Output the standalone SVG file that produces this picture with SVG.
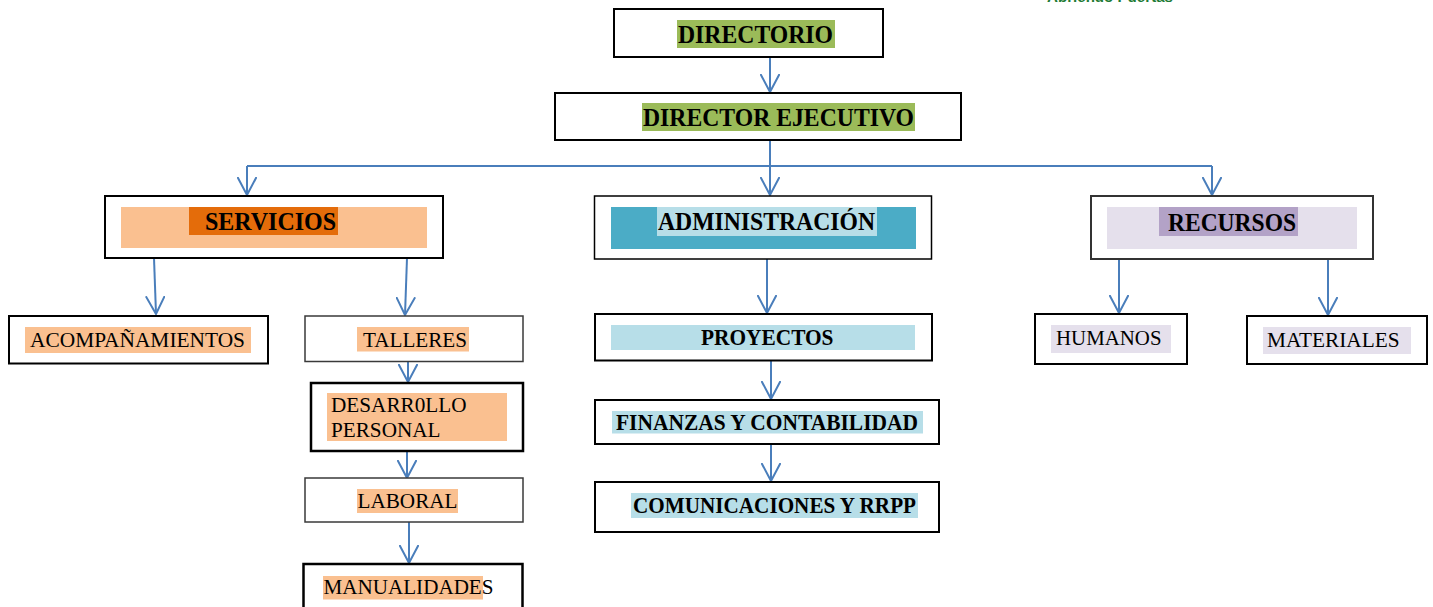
<svg xmlns="http://www.w3.org/2000/svg" width="1433" height="607" viewBox="0 0 1433 607">
<defs>
<style>
.box{fill:#fff;stroke:#000;stroke-width:2}
.thin{fill:#fff;stroke:#3a3a3a;stroke-width:1.5}
.b{font-family:"Liberation Serif","Times New Roman",serif;font-weight:bold;fill:#000}
.r{font-family:"Liberation Serif","Times New Roman",serif;fill:#000}
.con{fill:none;stroke:#4A7EBB;stroke-width:2}
</style>
<marker id="ah" viewBox="0 0 20 20" markerUnits="userSpaceOnUse" markerWidth="20" markerHeight="20" refX="18" refY="10" orient="auto">
<path d="M0,0.5 L18,10 L0,19.5" fill="none" stroke="#4A7EBB" stroke-width="2"/>
</marker>
</defs>
<rect width="1433" height="607" fill="#fff"/>
<text x="1047" y="2" font-family="Liberation Sans,Arial,sans-serif" font-weight="bold" font-size="15" fill="#1E7B34" textLength="126" lengthAdjust="spacingAndGlyphs">Abriendo Puertas</text>

<g id="connectors" class="con">
<path d="M770,57 V92" marker-end="url(#ah)"/>
<path d="M770,140 V195" marker-end="url(#ah)"/>
<path d="M247,166 H1212"/>
<path d="M247,166 V195" marker-end="url(#ah)"/>
<path d="M1212,166 V195" marker-end="url(#ah)"/>
<path d="M154,258 L156,314" marker-end="url(#ah)"/>
<path d="M407,258 L405,315" marker-end="url(#ah)"/>
<path d="M408,361 V382" marker-end="url(#ah)"/>
<path d="M407,451 V478" marker-end="url(#ah)"/>
<path d="M409,522 V563" marker-end="url(#ah)"/>
<path d="M767,259 V313" marker-end="url(#ah)"/>
<path d="M771,361 V399" marker-end="url(#ah)"/>
<path d="M771,444 V481" marker-end="url(#ah)"/>
<path d="M1119,259 V313" marker-end="url(#ah)"/>
<path d="M1328,259 V315" marker-end="url(#ah)"/>
</g>

<g id="directorio">
<rect class="box" x="614" y="9" width="269" height="48"/>
<rect x="677" y="20" width="158" height="28" fill="#9BBB59"/>
<text class="b" x="678" y="42.5" font-size="26" textLength="155" lengthAdjust="spacingAndGlyphs">DIRECTORIO</text>
</g>

<g id="director-ejecutivo">
<rect class="box" x="555" y="93" width="406" height="47"/>
<rect x="642" y="103" width="273" height="28" fill="#9BBB59"/>
<text class="b" x="643" y="126" font-size="26" textLength="271" lengthAdjust="spacingAndGlyphs">DIRECTOR EJECUTIVO</text>
</g>

<g id="servicios">
<rect class="box" x="105" y="196" width="338" height="62"/>
<rect x="121" y="207" width="306" height="41" fill="#FAC090"/>
<rect x="189" y="207" width="149" height="28" fill="#E46C0A"/>
<text class="b" x="205" y="230" font-size="26" textLength="131" lengthAdjust="spacingAndGlyphs">SERVICIOS</text>
</g>

<g id="administracion">
<rect class="thin" x="594.5" y="196" width="337" height="63" style="stroke:#000"/>
<rect x="611" y="207" width="305" height="42" fill="#4BACC6"/>
<rect x="657" y="207" width="220" height="29" fill="#B7DEE8"/>
<text class="b" x="658" y="230" font-size="26" textLength="217" lengthAdjust="spacingAndGlyphs">ADMINISTRACIÓN</text>
</g>

<g id="recursos">
<rect class="box" x="1091" y="196" width="282" height="63" style="stroke:#333"/>
<rect x="1107" y="207" width="250" height="42" fill="#E5E0EC"/>
<rect x="1159" y="207" width="139" height="29" fill="#B3A2C7"/>
<text class="b" x="1168" y="230.5" font-size="26" textLength="128" lengthAdjust="spacingAndGlyphs">RECURSOS</text>
</g>

<g id="acompanamientos">
<rect class="box" x="9" y="316" width="259" height="47.5"/>
<rect x="25" y="327" width="226" height="26" fill="#FAC090"/>
<text class="r" x="30" y="347" font-size="21.5" textLength="215" lengthAdjust="spacingAndGlyphs">ACOMPAÑAMIENTOS</text>
</g>

<g id="talleres">
<rect class="thin" x="305" y="316" width="218" height="45.5"/>
<rect x="357" y="327" width="112" height="24.5" fill="#FAC090"/>
<text class="r" x="363" y="347" font-size="21.5" textLength="104" lengthAdjust="spacingAndGlyphs">TALLERES</text>
</g>

<g id="desarrollo-personal">
<rect class="box" x="311" y="383" width="212" height="68" style="stroke-width:2.5"/>
<rect x="327" y="393" width="180" height="48" fill="#FAC090"/>
<text class="r" x="331" y="412" font-size="21.5" textLength="135.5" lengthAdjust="spacingAndGlyphs">DESARR0LLO</text>
<text class="r" x="331" y="436.5" font-size="21.5" textLength="109.5" lengthAdjust="spacingAndGlyphs">PERSONAL</text>
</g>

<g id="laboral">
<rect class="thin" x="305" y="478" width="218" height="44"/>
<rect x="357" y="489" width="101" height="24" fill="#FAC090"/>
<text class="r" x="357.5" y="507.5" font-size="21.5" textLength="100" lengthAdjust="spacingAndGlyphs">LABORAL</text>
</g>

<g id="manualidades">
<rect class="box" x="303.5" y="564" width="219" height="50" style="stroke-width:2.5"/>
<rect x="323" y="576" width="160" height="23.5" fill="#FAC090"/>
<text class="r" x="323.5" y="594" font-size="21.5" textLength="170" lengthAdjust="spacingAndGlyphs">MANUALIDADES</text>
</g>

<g id="proyectos">
<rect class="box" x="595" y="314" width="337" height="46.5"/>
<rect x="611" y="325" width="304" height="25" fill="#B7DEE8"/>
<text class="b" x="701" y="345" font-size="22.5" textLength="132.5" lengthAdjust="spacingAndGlyphs">PROYECTOS</text>
</g>

<g id="finanzas">
<rect class="box" x="595" y="400" width="344" height="44"/>
<rect x="612" y="411" width="311" height="22.5" fill="#B7DEE8"/>
<text class="b" x="616" y="430" font-size="22.5" textLength="302" lengthAdjust="spacingAndGlyphs">FINANZAS Y CONTABILIDAD</text>
</g>

<g id="comunicaciones">
<rect class="box" x="595" y="482" width="344" height="50"/>
<rect x="631" y="493" width="287" height="25" fill="#B7DEE8"/>
<text class="b" x="633" y="513" font-size="22.5" textLength="283" lengthAdjust="spacingAndGlyphs">COMUNICACIONES Y RRPP</text>
</g>

<g id="humanos">
<rect class="box" x="1035" y="314" width="152" height="50"/>
<rect x="1051" y="325" width="120" height="28" fill="#E5E0EC"/>
<text class="r" x="1056" y="345" font-size="21.5" textLength="105.5" lengthAdjust="spacingAndGlyphs">HUMANOS</text>
</g>

<g id="materiales">
<rect class="box" x="1247" y="316" width="180" height="48"/>
<rect x="1263" y="327" width="148" height="27" fill="#E5E0EC"/>
<text class="r" x="1267" y="347" font-size="21.5" textLength="132.5" lengthAdjust="spacingAndGlyphs">MATERIALES</text>
</g>
</svg>
